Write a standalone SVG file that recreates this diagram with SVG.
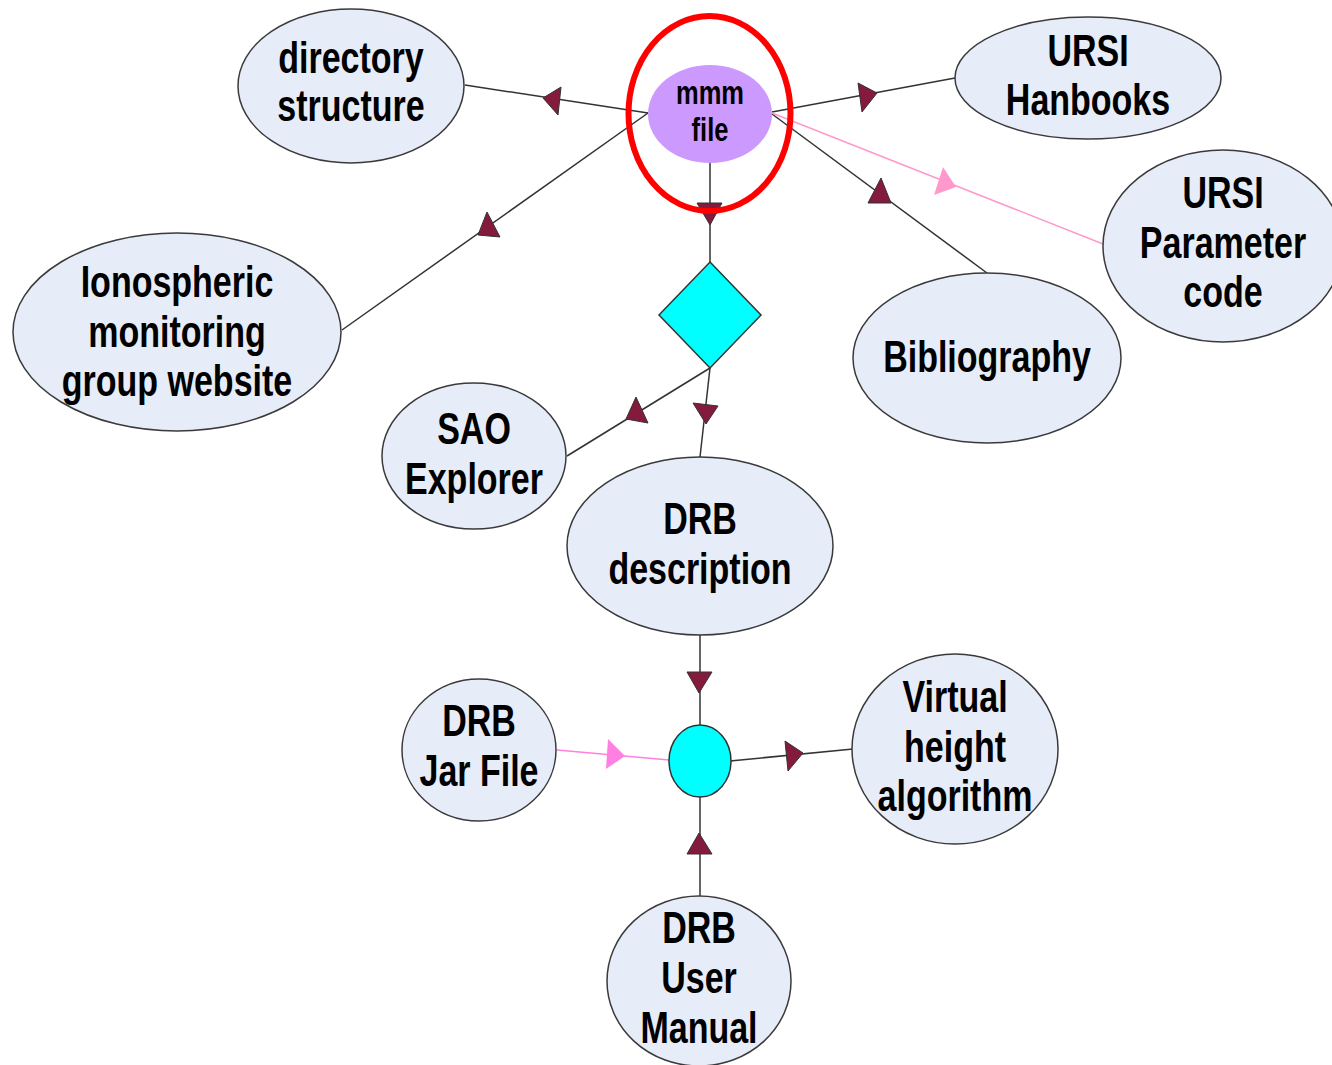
<svg xmlns="http://www.w3.org/2000/svg" width="1332" height="1065" viewBox="0 0 1332 1065">
<style>
.node{fill:#e6ecf8;stroke:#3a3a3a;stroke-width:1.5}
.t{font-family:"Liberation Sans",Arial,sans-serif;font-weight:bold;font-size:34px;text-anchor:middle;fill:#000}
.ts{font-family:"Liberation Sans",Arial,sans-serif;font-weight:bold;font-size:25.5px;text-anchor:middle;fill:#000}
.ln{stroke:#333;stroke-width:1.5;fill:none}
.pk{stroke:#ff99cc;stroke-width:1.5;fill:none}
.pk2{stroke:#ff80e0;stroke-width:1.5;fill:none}
.ah{fill:#841a3c;stroke:#333;stroke-width:1}
</style>
<rect width="1332" height="1065" fill="#fff"/>
<g id="connectors">
<line class="ln" x1="648" y1="113" x2="465" y2="85"/>
<line class="ln" x1="648" y1="113" x2="342" y2="330"/>
<line class="ln" x1="772" y1="112" x2="955" y2="78"/>
<line class="ln" x1="772" y1="114" x2="987" y2="273"/>
<line class="pk" x1="772" y1="113" x2="1103" y2="244"/>
<line class="ln" x1="710" y1="163" x2="710" y2="262"/>
<line class="ln" x1="710" y1="368" x2="567" y2="456"/>
<line class="ln" x1="710" y1="368" x2="700" y2="457"/>
<line class="ln" x1="700" y1="635" x2="700" y2="725"/>
<line class="pk2" x1="557" y1="750" x2="669" y2="760"/>
<line class="ln" x1="730" y1="761" x2="853" y2="749"/>
<line class="ln" x1="700" y1="896" x2="700" y2="797"/>
<polygon class="ah" points="543,98 561,87 558,115"/>
<polygon class="ah" points="487,212 478,235 500,237"/>
<polygon class="ah" points="877,93 858,83 862,112"/>
<polygon class="ah" points="881,178 868,203 891,203"/>
<polygon points="943,167 934,195 956,187" fill="#ff99cc"/>
<polygon class="ah" points="697,203 722,203 710,225"/>
<polygon class="ah" points="636,397 626,419 648,423"/>
<polygon class="ah" points="693,403 718,406 706,424"/>
<polygon class="ah" points="687,672 712,672 699,693"/>
<polygon points="608,739 625,756 606,769" fill="#ff80e0"/>
<polygon class="ah" points="785,741 803,753 788,771"/>
<polygon class="ah" points="699,833 687,854 712,854"/>
</g>
<g id="directory">
<ellipse class="node" cx="351" cy="86" rx="113" ry="77"/>
<text class="t" transform="translate(351,73) scale(1,1.3)">directory</text>
<text class="t" transform="translate(351,121) scale(1,1.3)">structure</text>
</g>
<g id="mmm">
<ellipse cx="710" cy="114" rx="62" ry="49" fill="#cc99ff"/>
<text class="ts" transform="translate(710,104) scale(1,1.3)">mmm</text>
<text class="ts" transform="translate(710,141) scale(1,1.3)">file</text>
<ellipse cx="709.5" cy="113.5" rx="81" ry="97.5" fill="none" stroke="#ff0000" stroke-width="6"/>
</g>
<g id="ursi-hanbooks">
<ellipse class="node" cx="1088" cy="78" rx="133" ry="61"/>
<text class="t" transform="translate(1088,66) scale(1,1.3)">URSI</text>
<text class="t" transform="translate(1088,115) scale(1,1.3)">Hanbooks</text>
</g>
<g id="ursi-param">
<ellipse class="node" cx="1223" cy="246" rx="120" ry="96"/>
<text class="t" transform="translate(1223,208) scale(1,1.3)">URSI</text>
<text class="t" transform="translate(1223,258) scale(1,1.3)">Parameter</text>
<text class="t" transform="translate(1223,307) scale(1,1.3)">code</text>
</g>
<g id="ionospheric">
<ellipse class="node" cx="177" cy="332" rx="164" ry="99"/>
<text class="t" transform="translate(177,297) scale(1,1.3)">Ionospheric</text>
<text class="t" transform="translate(177,347) scale(1,1.3)">monitoring</text>
<text class="t" transform="translate(177,396) scale(1,1.3)">group website</text>
</g>
<g id="bibliography">
<ellipse class="node" cx="987" cy="358" rx="134" ry="85"/>
<text class="t" transform="translate(987,372) scale(1,1.3)">Bibliography</text>
</g>
<g id="diamond">
<polygon points="710,262 761,315 710,368 659,315" fill="#00ffff" stroke="#333" stroke-width="1.5"/>
</g>
<g id="sao">
<ellipse class="node" cx="474" cy="456" rx="92" ry="73"/>
<text class="t" transform="translate(474,444) scale(1,1.3)">SAO</text>
<text class="t" transform="translate(474,494) scale(1,1.3)">Explorer</text>
</g>
<g id="drb-desc">
<ellipse class="node" cx="700" cy="546" rx="133" ry="89"/>
<text class="t" transform="translate(700,534) scale(1,1.3)">DRB</text>
<text class="t" transform="translate(700,584) scale(1,1.3)">description</text>
</g>
<g id="circle">
<ellipse cx="700" cy="761" rx="31" ry="36" fill="#00ffff" stroke="#333" stroke-width="1.5"/>
</g>
<g id="drb-jar">
<ellipse class="node" cx="479" cy="750" rx="77" ry="71"/>
<text class="t" transform="translate(479,736) scale(1,1.3)">DRB</text>
<text class="t" transform="translate(479,786) scale(1,1.3)">Jar File</text>
</g>
<g id="virtual">
<ellipse class="node" cx="955" cy="749" rx="103" ry="95"/>
<text class="t" transform="translate(955,712) scale(1,1.3)">Virtual</text>
<text class="t" transform="translate(955,762) scale(1,1.3)">height</text>
<text class="t" transform="translate(955,811) scale(1,1.3)">algorithm</text>
</g>
<g id="drb-manual">
<ellipse class="node" cx="699" cy="981" rx="92" ry="85"/>
<text class="t" transform="translate(699,943) scale(1,1.3)">DRB</text>
<text class="t" transform="translate(699,993) scale(1,1.3)">User</text>
<text class="t" transform="translate(699,1043) scale(1,1.3)">Manual</text>
</g>
</svg>
